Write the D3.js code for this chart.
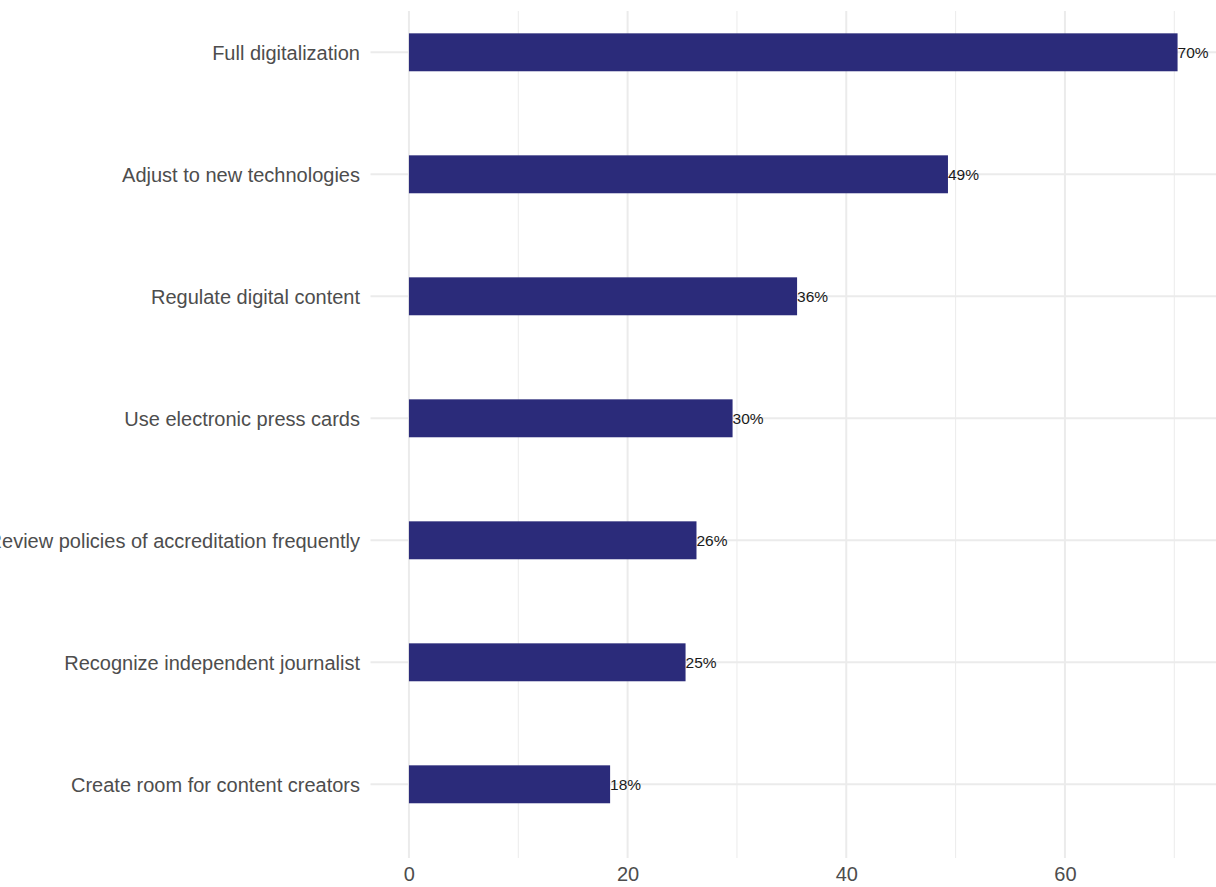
<!DOCTYPE html>
<html>
<head>
<meta charset="utf-8">
<script src="https://cdn.jsdelivr.net/npm/d3@7"></script>
<style>
  html, body { margin: 0; padding: 0; background: #ffffff; }
  svg { display: block; }
</style>
</head>
<body>
<svg id="chart" width="1216" height="887"></svg>
<script>
// Share of respondents (%) per recommended measure, top to bottom
const categories = [
  "Full digitalization",
  "Adjust to new technologies",
  "Regulate digital content",
  "Use electronic press cards",
  "Review policies of accreditation frequently",
  "Recognize independent journalist",
  "Create room for content creators"
];
const values = [70.3, 49.3, 35.5, 29.6, 26.3, 25.3, 18.4];
const majorTicks = [0, 20, 40, 60];
const minorTicks = [10, 30, 50, 70];

const svg = d3.select("#chart");
const panel = { left: 370.5, right: 1216, top: 11, bottom: 858 };

// x: linear with 5% expansion on both ends of the data range
const xMax = d3.max(values);
const pad = xMax * 0.05;
const x = d3.scaleLinear()
  .domain([-pad, xMax + pad])
  .range([panel.left, panel.right]);

const y = d3.scaleBand()
  .domain(categories)
  .range([-8.7, 845.3])
  .paddingInner(0.689)
  .paddingOuter(0.3445);

const grid = svg.append("g");
// minor vertical grid
grid.selectAll("line.minor").data(minorTicks).join("line")
  .attr("x1", d => x(d)).attr("x2", d => x(d))
  .attr("y1", panel.top).attr("y2", panel.bottom)
  .attr("stroke", "#ebebeb").attr("stroke-width", 1);
// major vertical grid
grid.selectAll("line.major").data(majorTicks).join("line")
  .attr("x1", d => x(d)).attr("x2", d => x(d))
  .attr("y1", panel.top).attr("y2", panel.bottom)
  .attr("stroke", "#ebebeb").attr("stroke-width", 2);
// horizontal grid at each category
grid.selectAll("line.h").data(categories).join("line")
  .attr("x1", panel.left).attr("x2", panel.right)
  .attr("y1", d => y(d) + y.bandwidth() / 2)
  .attr("y2", d => y(d) + y.bandwidth() / 2)
  .attr("stroke", "#ebebeb").attr("stroke-width", 2);

// bars
svg.append("g").selectAll("rect").data(values).join("rect")
  .attr("x", x(0))
  .attr("y", (d, i) => y(categories[i]))
  .attr("width", d => x(d) - x(0))
  .attr("height", y.bandwidth())
  .attr("fill", "#2b2b7a");

// value labels
svg.append("g").selectAll("text").data(values).join("text")
  .attr("x", d => x(d))
  .attr("y", (d, i) => y(categories[i]) + y.bandwidth() / 2 + 1.5)
  .attr("dominant-baseline", "middle")
  .attr("font-family", "Liberation Sans, Arial, sans-serif")
  .attr("font-size", 15.5)
  .attr("fill", "#1a1a1a")
  .text(d => Math.round(d) + "%");

// y axis labels
const yAxis = d3.axisLeft(y).tickSize(0).tickPadding(10.5);
const gy = svg.append("g")
  .attr("transform", `translate(${panel.left},0)`)
  .call(yAxis);
gy.select(".domain").remove();
gy.selectAll("text")
  .attr("font-family", "Liberation Sans, Arial, sans-serif")
  .attr("font-size", 20)
  .attr("dy", "0.36em")
  .attr("fill", "#4d4d4d");

// x axis labels
const xAxis = d3.axisBottom(x).tickValues(majorTicks).tickSize(0).tickPadding(9);
const gx = svg.append("g")
  .attr("transform", `translate(0,${panel.bottom})`)
  .call(xAxis);
gx.select(".domain").remove();
gx.selectAll("text")
  .attr("font-family", "Liberation Sans, Arial, sans-serif")
  .attr("font-size", 20)
  .attr("fill", "#4d4d4d");
</script>
</body>
</html>
